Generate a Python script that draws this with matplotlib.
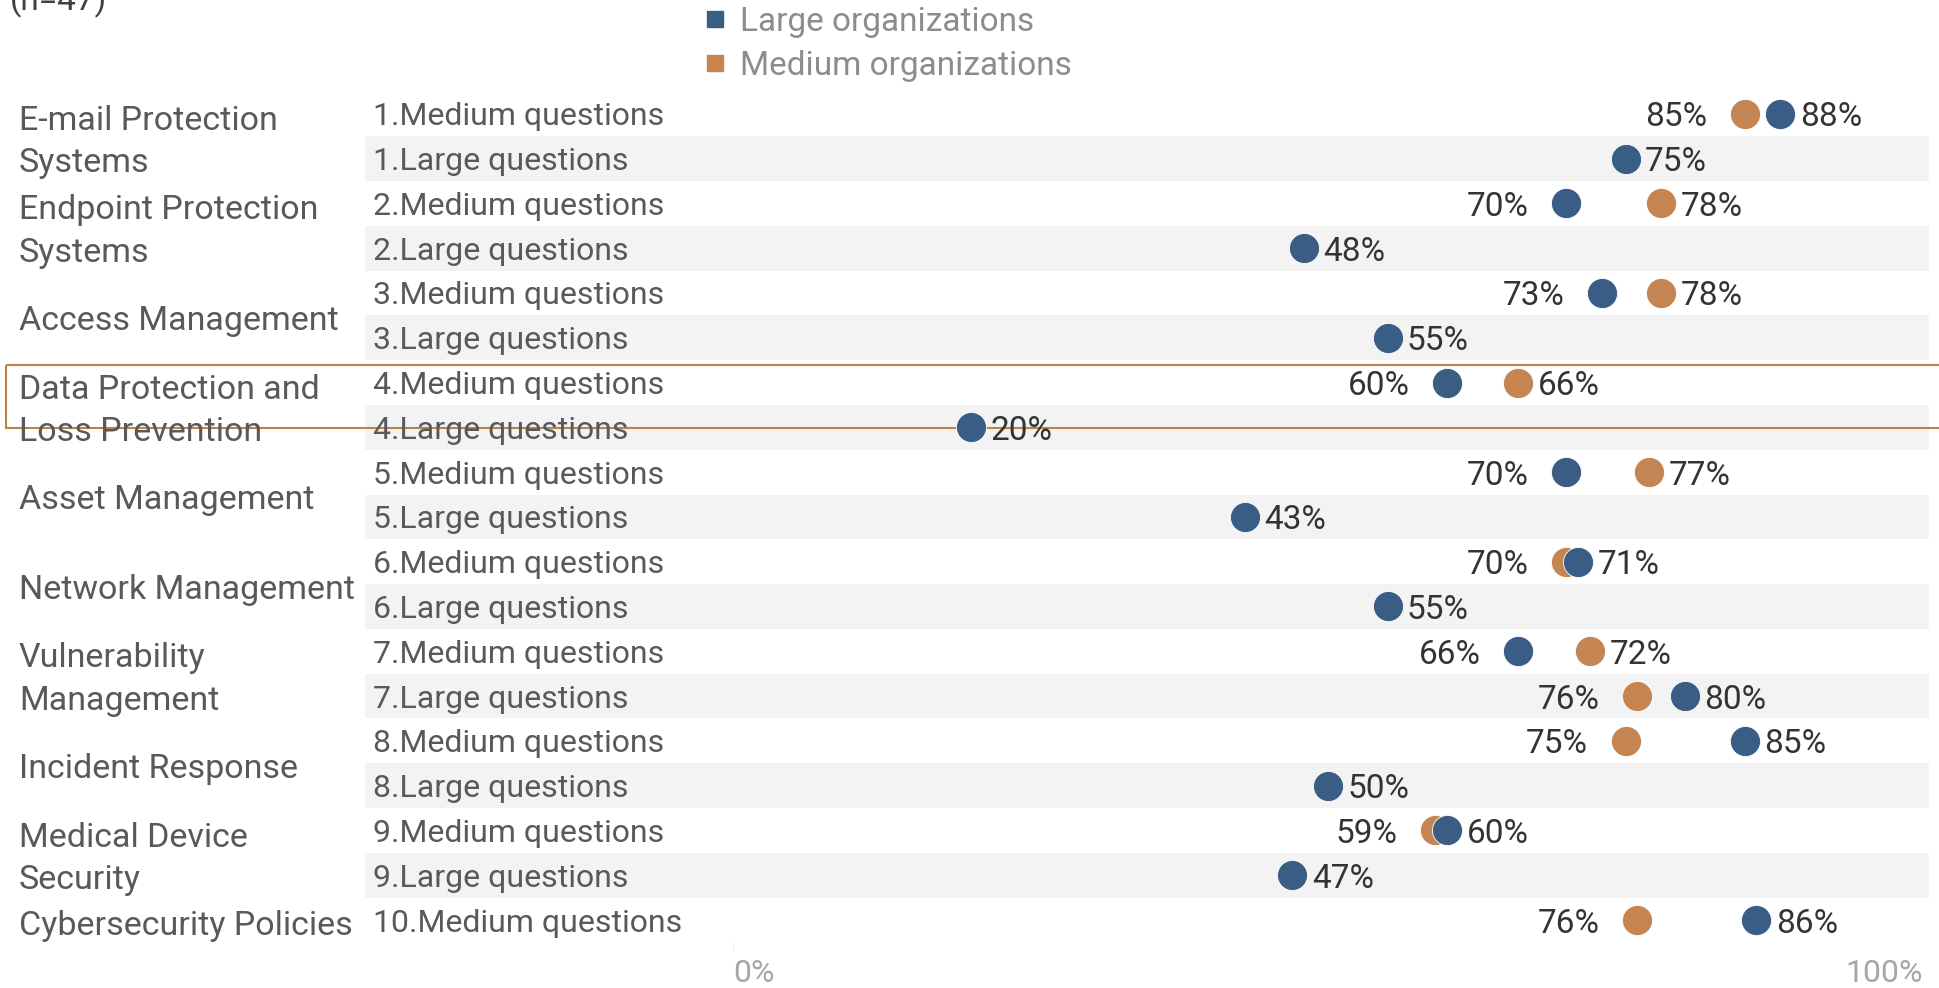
import matplotlib
matplotlib.use("Agg")
import matplotlib.pyplot as plt
import matplotlib.transforms as mtransforms
from matplotlib.lines import Line2D
from matplotlib.patches import Rectangle

plt.rcParams['font.family'] = ['Roboto', 'DejaVu Sans']

# categories on the left, each spanning one or two question rows
categories = ["E-mail Protection\nSystems", "Endpoint Protection\nSystems",
              "Access Management", "Data Protection and\nLoss Prevention",
              "Asset Management", "Network Management",
              "Vulnerability\nManagement", "Incident Response",
              "Medical Device\nSecurity", "Cybersecurity Policies"]
category_rows = [2, 2, 2, 2, 2, 2, 2, 2, 2, 1]

row_labels = ["1.Medium questions", "1.Large questions",
              "2.Medium questions", "2.Large questions",
              "3.Medium questions", "3.Large questions",
              "4.Medium questions", "4.Large questions",
              "5.Medium questions", "5.Large questions",
              "6.Medium questions", "6.Large questions",
              "7.Medium questions", "7.Large questions",
              "8.Medium questions", "8.Large questions",
              "9.Medium questions", "9.Large questions",
              "10.Medium questions"]

large_orgs = [88, 75, 70, 48, 73, 55, 60, 20, 70, 43, 71, 55, 66, 80, 85, 50, 60, 47, 86]
medium_orgs = [85, None, 78, None, 78, None, 66, None, 77, None, 70, None, 72, 76, 75, None, 59, None, 76]

highlight = "Data Protection and\nLoss Prevention"

blue = '#3a5d85'
orange = '#c48552'
FS = 23

fig = plt.figure(figsize=(19.39, 9.88), dpi=100)
W, H = 1939, 988
ax = fig.add_axes([365 / W, 1 - 942.4 / H, (1929 - 365) / W, 851 / H])
ax.set_xlim(-30.92, 100.5)
ax.set_ylim(len(row_labels) - 0.5, -0.5)
for s in ax.spines.values():
    s.set_visible(False)
ax.set_yticks([])
ax.set_xticks([0, 100], ['0%', '100%'])
ax.tick_params(axis='x', length=6, color='#ececec', labelsize=FS,
               labelcolor='#a6a6a6', pad=6)
ax.xaxis.get_major_ticks()[1].tick1line.set_visible(False)
tl = ax.get_xticklabels()
tl[0].set_ha('left')
tl[1].set_ha('right')

# alternating bands
for i in range(len(row_labels)):
    if i % 2 == 1:
        ax.axhspan(i - 0.5, i + 0.5, color='#f3f3f3', lw=0, zorder=0)

row_tr = mtransforms.blended_transform_factory(ax.transAxes, ax.transData)
cat_tr = mtransforms.blended_transform_factory(fig.transFigure, ax.transData)

for i, lab in enumerate(row_labels):
    ax.text(8 / 1564, i, lab, transform=row_tr, ha='left', va='center_baseline',
            fontsize=FS, color='#595959')

start = 0
for cat, n in zip(categories, category_rows):
    yc = start + (n - 1) / 2 + 0.13
    ax.text(19 / W, yc, cat, transform=cat_tr, ha='left', va='center',
            fontsize=FS + 1.5, color='#595959', linespacing=1.41)
    if cat == highlight:
        box = Rectangle((6 / W, start - 0.39), 1.0, 1.4, transform=cat_tr,
                        fill=False, ec='#c0804a', lw=1.5, clip_on=False)
        ax.add_patch(box)
    start += n

# dots
my = [i for i, v in enumerate(medium_orgs) if v is not None]
mx = [v for v in medium_orgs if v is not None]
ax.scatter(mx, my, s=470, color=orange, edgecolors='white', linewidths=0.6, zorder=3)
ax.scatter(large_orgs, range(len(large_orgs)), s=470, color=blue,
           edgecolors='white', linewidths=0.6, zorder=4)

# value labels
for i, lv in enumerate(large_orgs):
    mv = medium_orgs[i]
    vals = [lv] if mv is None else sorted([lv, mv])
    if len(vals) == 2:
        ax.annotate(f"{vals[0]}%", (vals[0], i), xytext=(-27, 0),
                    textcoords='offset points', ha='right', va='center_baseline',
                    fontsize=FS + 1, color='#333333')
    ax.annotate(f"{vals[-1]}%", (vals[-1], i), xytext=(14, 0),
                textcoords='offset points', ha='left', va='center_baseline',
                fontsize=FS + 1, color='#333333')

handles = [Line2D([], [], marker='s', ls='', color=blue, markersize=12),
           Line2D([], [], marker='s', ls='', color=orange, markersize=12)]
fig.legend(handles, ['Large organizations', 'Medium organizations'],
           loc='upper left', bbox_to_anchor=(703 / W, 1 - 6 / H),
           frameon=False, fontsize=FS + 1, labelcolor='#8c8c8c',
           handlelength=0.7, handletextpad=0.4, borderpad=0,
           borderaxespad=0, labelspacing=0.35)

fig.text(10 / W, 1 - 1 / H, "(n=47)", ha='left', va='center',
         fontsize=FS + 1, color='#404040')

fig.savefig('out.png', dpi=100)
